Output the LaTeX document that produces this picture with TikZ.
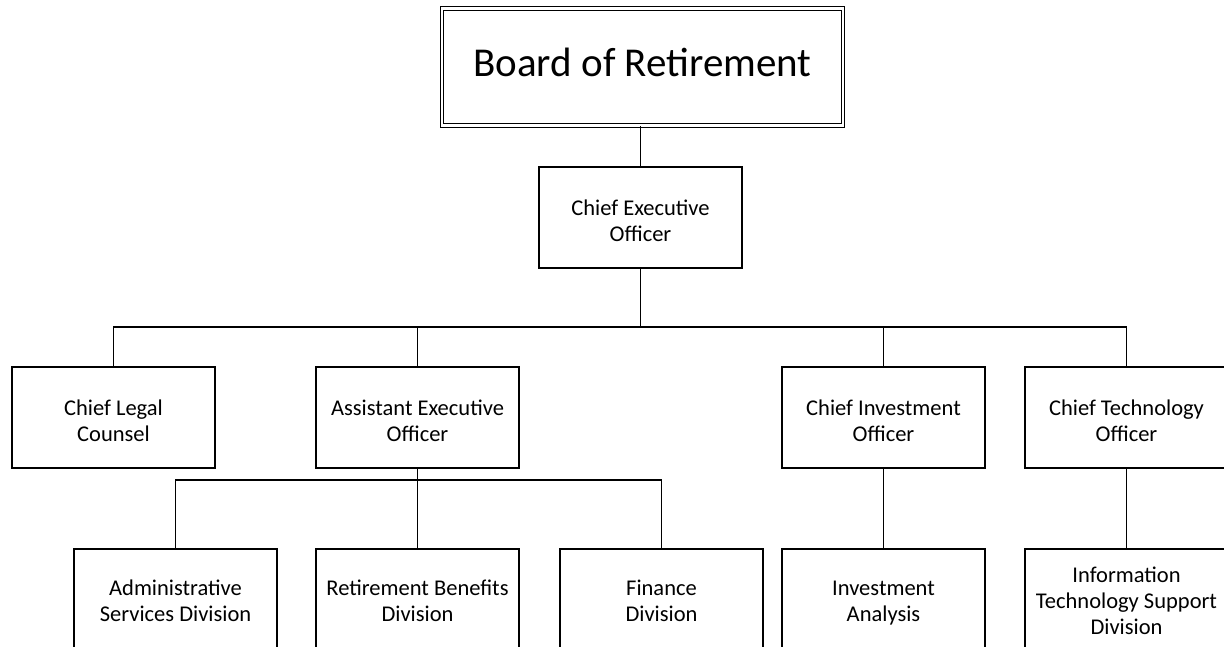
\documentclass[tikz,border=0pt]{standalone}
\usepackage{fontspec}
\setmainfont{Carlito}
\newcommand\topstrut{\rule{0pt}{29.5pt}}
\begin{document}
\begin{tikzpicture}[x=1pt,y=-1pt,
  lbl/.style={align=center,font=\fontsize{22.5}{26}\selectfont,inner sep=0pt},
  box/.style={draw=black,line width=1.5pt,minimum width=203pt,minimum height=101pt,inner sep=0pt,align=center,font=\fontsize{22.5}{26}\selectfont,fill=white},
  lowbox/.style={box,minimum height=120pt,anchor=north},
  conn/.style={line width=1.5pt}]
\useasboundingbox (0,0) rectangle (1224,646);
\clip (0,0) rectangle (1224,646);
\fill[white] (0,0) rectangle (1224,646);
\node[draw=black,double,double distance=2.4pt,line width=1.2pt,minimum width=401pt,minimum height=117pt,inner sep=0pt,font=\fontsize{41}{46}\selectfont] (board) at (642.5,67) {Board of Retirement\rule[-10pt]{0pt}{0pt}};
\node[box] (ceo) at (640.5,217.5) {\topstrut Chief Executive\\\strut Officer};
\node[box] (clc) at (113.5,417.5) {\topstrut Chief Legal\\\strut Counsel};
\node[box] (aeo) at (417.5,417.5) {\topstrut Assistant Executive\\\strut Officer};
\node[box] (cio) at (883.5,417.5) {\topstrut Chief Investment\\\strut Officer};
\node[box] (cto) at (1126.5,417.5) {\topstrut Chief Technology\\\strut Officer};
\node[lowbox] (asd) at (175.5,548) {};
\node[lowbox] (rbd) at (417.5,548) {};
\node[lowbox] (fd) at (661.5,548) {};
\node[lowbox] (ia) at (883.5,548) {};
\node[lowbox] (itsd) at (1126.5,548) {};
\node[lbl] (asdt) at (175.5,603) {\strut Administrative\\\strut Services Division};
\node[lbl] (rbdt) at (417.5,603) {\strut Retirement Benefits\\\strut Division};
\node[lbl] (fdt) at (661.5,603) {\strut Finance\\\strut Division};
\node[lbl] (iat) at (883.5,603) {\strut Investment\\\strut Analysis};
\node[lbl] (itsdt) at (1126.5,603) {\strut Information\\\strut Technology Support\\\strut Division};
\coordinate (h1) at (640.5,327);
\coordinate (h2) at (417.5,480);
\draw[conn] (ceo.north) -- (ceo.north |- board.south);
\draw[conn] (ceo.south) -- (h1);
\draw[conn] (clc.north) |- (h1) -| (cto.north);
\draw[conn] (aeo.north) -- (aeo.north |- h1);
\draw[conn] (cio.north) -- (cio.north |- h1);
\draw[conn] (aeo.south) -- (rbd.north);
\draw[conn] (asd.north) |- (h2) -| (fd.north);
\draw[conn] (cio.south) -- (ia.north);
\draw[conn] (cto.south) -- (itsd.north);
\end{tikzpicture}
\end{document}
